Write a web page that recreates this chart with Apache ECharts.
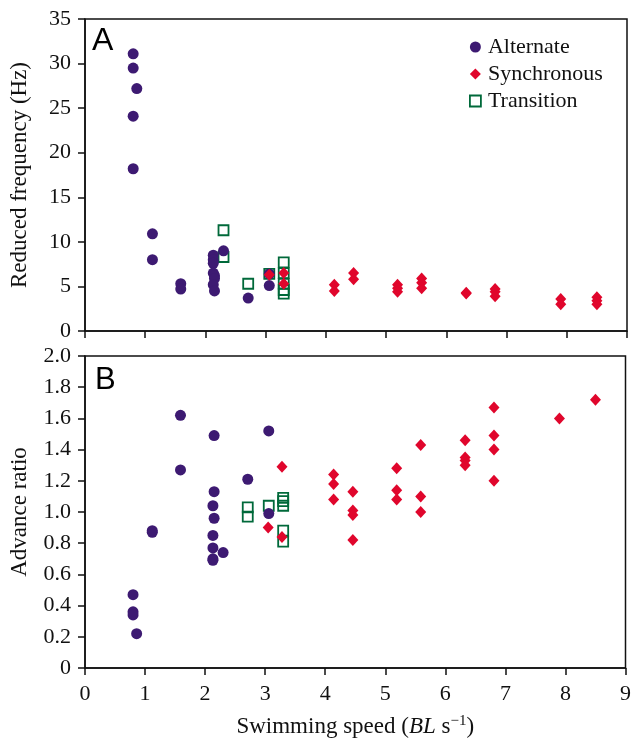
<!DOCTYPE html>
<html><head><meta charset="utf-8">
<script src="https://cdn.jsdelivr.net/npm/echarts@6/dist/echarts.min.js"></script>
<style>html,body{margin:0;padding:0;background:#fff}#c{width:634px;height:740px}</style>
</head><body><div id="c"></div>
<script>
// Panel A: reduced frequency (Hz) vs swimming speed (BL/s)
var alternateA = [[0.80,31.1],[0.80,29.5],[0.86,27.2],[0.80,24.1],[0.80,18.2],[1.12,10.9],[1.12,8.0],[1.59,5.3],[1.59,4.7],[2.13,8.5],[2.13,8.0],[2.13,7.6],[2.13,6.5],[2.15,6.2],[2.15,5.9],[2.13,5.2],[2.15,4.5],[2.30,9.0],[2.71,3.7],[3.06,6.4],[3.06,5.1]];
var synchronousA = [[3.06,6.3],[3.30,6.5],[3.30,5.3],[4.14,5.2],[4.14,4.5],[4.46,6.5],[4.46,5.8],[5.19,5.2],[5.19,4.8],[5.19,4.4],[5.59,5.9],[5.59,5.4],[5.59,4.8],[6.33,4.3],[6.33,4.2],[6.81,4.7],[6.81,4.4],[6.81,3.9],[7.90,3.6],[7.90,3.0],[8.50,3.8],[8.50,3.4],[8.50,3.0]];
var transitionA = [[2.30,11.3],[2.30,8.3],[2.71,5.3],[3.06,6.4],[3.30,7.7],[3.30,6.5],[3.30,5.3],[3.30,4.6],[3.30,4.2]];
// Panel B: advance ratio vs swimming speed
var alternateB = [[0.80,0.47],[0.80,0.36],[0.80,0.34],[0.86,0.22],[1.12,0.88],[1.12,0.87],[1.59,1.62],[1.59,1.27],[2.15,1.49],[2.15,1.13],[2.13,1.04],[2.15,0.96],[2.13,0.85],[2.13,0.77],[2.13,0.70],[2.13,0.69],[2.30,0.74],[2.71,1.21],[3.06,1.52],[3.06,0.99]];
var synchronousB = [[3.05,0.90],[3.28,1.29],[3.28,0.84],[4.14,1.24],[4.14,1.18],[4.14,1.08],[4.46,1.13],[4.46,1.01],[4.46,0.98],[4.46,0.82],[5.19,1.28],[5.19,1.14],[5.19,1.08],[5.59,1.43],[5.59,1.10],[5.59,1.00],[6.33,1.46],[6.33,1.35],[6.33,1.33],[6.33,1.30],[6.81,1.67],[6.81,1.49],[6.81,1.40],[6.81,1.20],[7.90,1.60],[8.50,1.72]];
var transitionB = [[2.71,1.03],[2.71,0.97],[3.06,1.04],[3.30,1.09],[3.30,1.07],[3.30,1.04],[3.30,0.88],[3.30,0.81]];
var seriesNames = ['Alternate','Synchronous','Transition'];
var yTicksA = ['0','5','10','15','20','25','30','35'];
var yTicksB = ['0','0.2','0.4','0.6','0.8','1.0','1.2','1.4','1.6','1.8','2.0'];

var SERIF = '"Liberation Serif","DejaVu Serif",serif';
var PURPLE = '#3d1a72', RED = '#e0062c', GREEN = '#00693a';
var axisLine = {show:true, lineStyle:{color:'#111', width:1.5}};
var axisTick = {show:true, inside:false, length:7, lineStyle:{color:'#111', width:1.5}};
function xAxis(gi, showLabels, name){
  return {type:'value', gridIndex:gi, min:0, max:9, interval:1,
    axisLine:axisLine, axisTick:axisTick, splitLine:{show:false},
    axisLabel:{show:showLabels, color:'#111', fontFamily:SERIF, fontSize:22, margin:15},
    name:name||'', nameLocation:'middle', nameGap:46,
    nameTextStyle:{color:'#111', fontFamily:SERIF, fontSize:23,
      rich:{a:{fontFamily:SERIF,fontSize:23,color:'#111'}, i:{fontFamily:SERIF,fontSize:23,fontStyle:'italic',color:'#111'}, s:{fontFamily:SERIF,fontSize:15,color:'#111',verticalAlign:'top',padding:[0,0,11,0]}}}};
}
function yAxis(gi, max, interval, ticks, name, gap){
  return {type:'value', gridIndex:gi, min:0, max:max, interval:interval,
    axisLine:axisLine, axisTick:axisTick, splitLine:{show:false},
    axisLabel:{color:'#111', fontFamily:SERIF, fontSize:22, margin:14,
      formatter:function(v){ var i=Math.round(v/interval); return ticks[i]!==undefined?ticks[i]:''; }},
    name:name, nameLocation:'middle', nameGap:gap, nameRotate:90,
    nameTextStyle:{color:'#111', fontFamily:SERIF, fontSize:23}};
}
function circ(name, data, gi){ return {name:name, type:'scatter', xAxisIndex:gi, yAxisIndex:gi, data:data, symbol:'circle', symbolSize:11, z:3, itemStyle:{color:PURPLE, opacity:1}}; }
function diam(name, data, gi){ return {name:name, type:'scatter', xAxisIndex:gi, yAxisIndex:gi, data:data, symbol:'diamond', symbolSize:[11,12], z:4, itemStyle:{color:RED, opacity:1}}; }
function sq(name, data, gi){ return {name:name, type:'scatter', xAxisIndex:gi, yAxisIndex:gi, data:data, symbol:'rect', symbolSize:10, z:2, itemStyle:{color:'rgba(255,255,255,0)', borderColor:GREEN, borderWidth:1.8, opacity:1}}; }

var chart = echarts.init(document.getElementById('c'), null, {renderer:'canvas'});
chart.setOption({
  animation:false,
  backgroundColor:'#fff',
  grid:[
    {left:85, top:19, width:542, height:312, show:true, borderColor:'#111', borderWidth:1.5, backgroundColor:'rgba(0,0,0,0)'},
    {left:85, top:356, width:542, height:312, show:true, borderColor:'#111', borderWidth:1.5, backgroundColor:'rgba(0,0,0,0)'}
  ],
  xAxis:[xAxis(0,false), xAxis(1,true,'{a|Swimming speed (}{i|BL}{a| s}{s|−1}{a|)}')],
  yAxis:[yAxis(0,35,5,yTicksA,'Reduced frequency (Hz)',54), yAxis(1,2,0.2,yTicksB,'Advance ratio',54)],
  legend:{data:[
      {name:seriesNames[0], icon:'circle', itemStyle:{color:PURPLE}},
      {name:seriesNames[1], icon:'diamond', itemStyle:{color:RED}},
      {name:seriesNames[2], icon:'rect', itemStyle:{color:'#fff', borderColor:GREEN, borderWidth:1.8}}],
    orient:'vertical', left:464, top:31, itemWidth:11, itemHeight:11, itemGap:5,
    textStyle:{color:'#111', fontFamily:SERIF, fontSize:22, padding:[0,0,0,2]}},
  graphic:[
    {type:'text', left:92, top:25, style:{text:'A', font:'32px "Liberation Sans", Arial, sans-serif', fill:'#000'}},
    {type:'text', left:95, top:365, style:{text:'B', font:'31px "Liberation Sans", Arial, sans-serif', fill:'#000'}}
  ],
  series:[
    circ(seriesNames[0], alternateA, 0), diam(seriesNames[1], synchronousA, 0), sq(seriesNames[2], transitionA, 0),
    circ(seriesNames[0], alternateB, 1), diam(seriesNames[1], synchronousB, 1), sq(seriesNames[2], transitionB, 1)
  ]
});
</script></body></html>
